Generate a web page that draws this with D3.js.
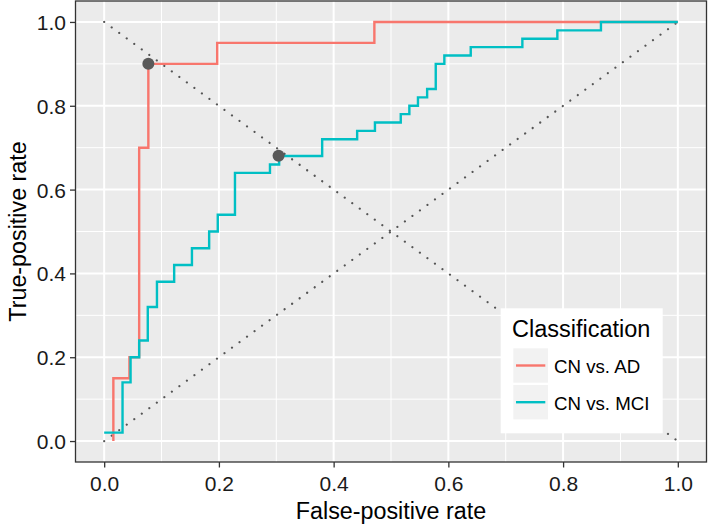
<!DOCTYPE html>
<html><head><meta charset="utf-8">
<script src="https://cdn.jsdelivr.net/npm/d3@7"></script>
<style>body{margin:0;background:#fff;}svg{display:block;font-family:"Liberation Sans",Arial,sans-serif;}</style>
</head><body>
<svg id="c" width="709" height="525"></svg>
<script>
// ---- data ----
const seriesNames = ["CN vs. AD", "CN vs. MCI"];
const seriesColors = ["#F8766D", "#00BFC4"];
const adFpr = [0.016,0.016,0.044,0.044,0.061,0.061,0.077,0.077,0.197,0.197,0.471,0.471,1.0];
const adTpr = [0.00,0.15,0.15,0.20,0.20,0.70,0.70,0.90,0.90,0.95,0.95,1.00,1.00];
const mciFpr = [0,0.032,0.032,0.046,0.046,0.061,0.061,0.076,0.076,0.092,0.092,0.122,0.122,0.153,0.153,0.183,0.183,0.198,0.198,0.228,0.228,0.289,0.289,0.305,0.305,0.380,0.380,0.441,0.441,0.472,0.472,0.517,0.517,0.532,0.532,0.547,0.547,0.563,0.563,0.578,0.578,0.593,0.593,0.639,0.639,0.729,0.729,0.790,0.790,0.866,0.866,1.0];
const mciTpr = [0.02,0.02,0.14,0.14,0.20,0.20,0.24,0.24,0.32,0.32,0.38,0.38,0.42,0.42,0.46,0.46,0.50,0.50,0.54,0.54,0.64,0.64,0.66,0.66,0.68,0.68,0.72,0.72,0.74,0.74,0.76,0.76,0.78,0.78,0.80,0.80,0.82,0.82,0.84,0.84,0.90,0.90,0.92,0.92,0.94,0.94,0.96,0.96,0.98,0.98,1.00,1.00];
const optFpr = [0.077, 0.304];
const optTpr = [0.90, 0.681];
const tickValues = [0, 0.2, 0.4, 0.6, 0.8, 1.0];
const minorValues = [0.1, 0.3, 0.5, 0.7, 0.9];
const xTitle = "False-positive rate";
const yTitle = "True-positive rate";
const legendTitle = "Classification";

// ---- layout ----
const svg = d3.select("#c");
const P = {l: 75.5, r: 706.5, t: 1, b: 462};
const x = d3.scaleLinear().domain([-0.05, 1.05]).range([P.l, P.r]);
const y = d3.scaleLinear().domain([-0.05, 1.05]).range([P.b, P.t]);

svg.append("rect").attr("x", P.l).attr("y", P.t).attr("width", P.r - P.l).attr("height", P.b - P.t).attr("fill", "#EBEBEB");

const grid = svg.append("g");
minorValues.forEach(v => {
  grid.append("line").attr("x1", x(v)).attr("x2", x(v)).attr("y1", P.t).attr("y2", P.b).attr("stroke", "#fff").attr("stroke-width", 1);
  grid.append("line").attr("y1", y(v)).attr("y2", y(v)).attr("x1", P.l).attr("x2", P.r).attr("stroke", "#fff").attr("stroke-width", 1);
});
tickValues.forEach(v => {
  grid.append("line").attr("x1", x(v)).attr("x2", x(v)).attr("y1", P.t).attr("y2", P.b).attr("stroke", "#fff").attr("stroke-width", 2);
  grid.append("line").attr("y1", y(v)).attr("y2", y(v)).attr("x1", P.l).attr("x2", P.r).attr("stroke", "#fff").attr("stroke-width", 2);
});

// diagonals
const diag = d3.line().x(d => x(d[0])).y(d => y(d[1]));
[[[0,1],[1,0]], [[0,0],[1,1]]].forEach(seg => {
  svg.append("path").attr("d", diag(seg)).attr("fill", "none").attr("stroke", "#555")
    .attr("stroke-width", 2.2).attr("stroke-linecap", "round").attr("stroke-dasharray", "0.01,9.3");
});

// curves
const line = d3.line().x(d => x(d[0])).y(d => y(d[1]));
const curves = [d3.zip(adFpr, adTpr), d3.zip(mciFpr, mciTpr)];
curves.forEach((c, i) => {
  svg.append("path").attr("d", line(c)).attr("fill", "none").attr("stroke", seriesColors[i])
    .attr("stroke-width", 2.4).attr("stroke-linejoin", "miter");
});

// optimal points
svg.selectAll("circle.opt").data(d3.zip(optFpr, optTpr)).enter().append("circle")
  .attr("cx", d => x(d[0])).attr("cy", d => y(d[1])).attr("r", 6).attr("fill", "#595959");

// panel border
svg.append("rect").attr("x", P.l).attr("y", P.t).attr("width", P.r - P.l).attr("height", P.b - P.t)
  .attr("fill", "none").attr("stroke", "#333").attr("stroke-width", 1.3);

// axes
const xAxis = svg.append("g").attr("transform", `translate(0,${P.b})`)
  .call(d3.axisBottom(x).tickValues(tickValues).tickFormat(d3.format(".1f")).tickSize(5.5).tickPadding(5));
const yAxis = svg.append("g").attr("transform", `translate(${P.l},0)`)
  .call(d3.axisLeft(y).tickValues(tickValues).tickFormat(d3.format(".1f")).tickSize(5.5).tickPadding(4));
[xAxis, yAxis].forEach(a => {
  a.select(".domain").remove();
  a.selectAll(".tick line").attr("stroke", "#333").attr("stroke-width", 1.3);
  a.selectAll(".tick text").attr("fill", "#1a1a1a").attr("font-size", 21).attr("font-family", "Liberation Sans, Arial, sans-serif");
});
xAxis.selectAll(".tick text").attr("dy", null).attr("y", 28.5);
yAxis.selectAll(".tick text").attr("dy", "0.36em");

svg.append("text").attr("x", (P.l + P.r) / 2).attr("y", 519).attr("text-anchor", "middle")
  .attr("font-size", 23.3).attr("fill", "#000").text(xTitle);
svg.append("text").attr("transform", `translate(26,${(P.t + P.b) / 2}) rotate(-90)`).attr("text-anchor", "middle")
  .attr("font-size", 23.3).attr("fill", "#000").text(yTitle);

// legend
const lg = svg.append("g");
lg.append("rect").attr("x", 500.7).attr("y", 308.3).attr("width", 162).attr("height", 125).attr("fill", "#fff");
lg.append("text").attr("x", 512).attr("y", 337.3).attr("font-size", 23.5).attr("fill", "#000").text(legendTitle);
seriesNames.forEach((n, i) => {
  const ky = 348.3 + i * 36.7;
  lg.append("rect").attr("x", 513.3).attr("y", ky).attr("width", 34.7).attr("height", 34.4).attr("fill", "#F2F2F2");
  lg.append("line").attr("x1", 516).attr("x2", 545.3).attr("y1", ky + 17.2).attr("y2", ky + 17.2)
    .attr("stroke", seriesColors[i]).attr("stroke-width", 2.4);
  lg.append("text").attr("x", 554).attr("y", ky + 24.5).attr("font-size", 18.7).attr("fill", "#000").text(n);
});
</script>
</body></html>
